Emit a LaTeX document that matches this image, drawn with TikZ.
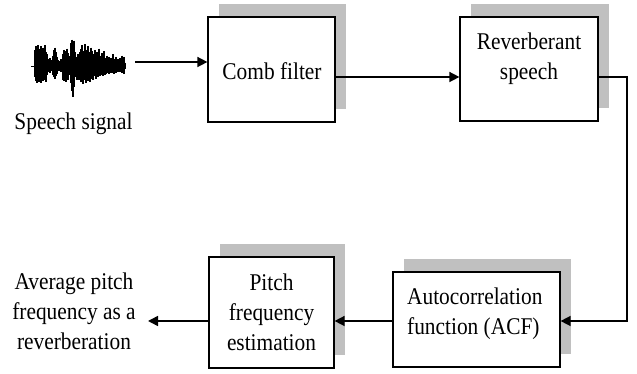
\documentclass[tikz,border=0pt]{standalone}
\usepackage{fontspec}
\setmainfont{Liberation Serif}[FakeStretch=0.89]
\usetikzlibrary{arrows.meta,shadows}

\definecolor{shadowgray}{RGB}{192,192,192}

\tikzset{
  block/.style={draw=black, line width=1.2pt, fill=white, inner sep=0pt,
    general shadow={fill=shadowgray, draw=none, shadow xshift=10.5pt, shadow yshift=13pt}},
  lbl/.style={inner sep=0pt, align=center, font=\fontsize{24}{30}\selectfont},
  flow/.style={line width=1.5pt, -{Triangle[length=10pt,width=10pt]}},
  wave/.style={line width=1.4pt, black},
}

\begin{document}
\begin{tikzpicture}[x=1pt, y=1pt]
\useasboundingbox (0,0) rectangle (637,374);

% input waveform: one vertical stroke per sample, amplitudes above/below the axis
\draw[line width=0.6pt] (31,308) -- (126,308);
\foreach \x/\u/\d in {
  35/14/10, 36/17/13, 37/12/15, 38/18/11, 39/15/14, 40/13/12, 41/17/15, 42/11/10,
  43/16/13, 44/14/12, 45/18/9, 46/12/14, 47/10/8, 48/6/5, 49/4/4, 50/7/6, 51/3/3,
  52/5/4, 53/9/8, 54/14/10, 55/16/11, 56/12/9, 57/8/7, 58/5/4, 59/3/3, 60/4/4,
  61/6/5, 62/3/4, 63/10/12, 64/14/13, 65/13/10, 66/8/14, 67/15/9, 68/11/12,
  69/7/8, 70/9/7, 71/20/15, 72/23/22, 73/17/27, 74/22/18, 75/12/10, 76/8/9,
  77/6/12, 78/10/8, 79/7/12, 80/12/10, 81/15/14, 82/18/9, 83/13/16, 84/10/12,
  85/19/11, 86/14/15, 87/11/9, 88/17/13, 89/12/10, 90/9/14, 91/16/11, 92/13/8,
  93/8/12, 94/10/9, 95/14/7, 96/9/11, 97/12/8, 98/7/10, 99/15/6, 100/9/9,
  101/6/8, 102/11/7, 103/8/9, 104/13/6, 105/7/8, 106/5/7, 107/9/6, 108/6/5,
  109/8/7, 110/5/6, 111/7/4, 112/4/6, 113/10/5, 114/6/7, 115/5/4, 116/8/6,
  117/4/5, 118/6/4, 119/3/5, 120/7/5, 121/5/4, 122/9/6, 123/4/5, 124/8/7, 125/3/3}
  \draw[wave] (\x,308+1.15*\u) -- (\x,308-1.15*\d);
\coordinate (wave) at (135,312);
\node[lbl] (speech) at (73.5,250.3) {Speech signal};

% processing blocks
\node[block, minimum width=127pt, minimum height=105pt] (comb) at (271.5,304.5) {};
\node[lbl] (combtext) at (272,302.8) {Comb filter};

\node[block, minimum width=138pt, minimum height=104pt] (reverb) at (529,305) {};
\node[lbl] (reverbtext) at (529,315.3) {Reverberant\\speech};

\node[block, minimum width=167pt, minimum height=95pt] (acf) at (476.5,54.5) {};
\node[lbl, align=left, anchor=west] (acftext) at (407,59.8) {Autocorrelation\\function (ACF)};

\node[block, minimum width=125pt, minimum height=111pt] (pitch) at (271.5,61.5) {};
\node[lbl] (pitchtext) at (271.5,62) {Pitch\\frequency\\estimation};

\node[lbl] (out) at (74,63) {Average pitch\\frequency as a\\reverberation};
\coordinate (outend) at (148,53);

% connectors
\coordinate (cr) at (comb.east |- 0,297);
\coordinate (turn) at (627,297);
\draw[flow] (wave) -- (comb.west |- wave);
\draw[flow] (cr) -- (reverb.west |- cr);
\draw[flow] (reverb.east |- turn) -- (turn) |- (acf.east |- 0,53);
\draw[flow] (acf.west |- 0,53) -- (pitch.east |- 0,53);
\draw[flow] (pitch.west |- 0,53) -- (outend);
\end{tikzpicture}
\end{document}
